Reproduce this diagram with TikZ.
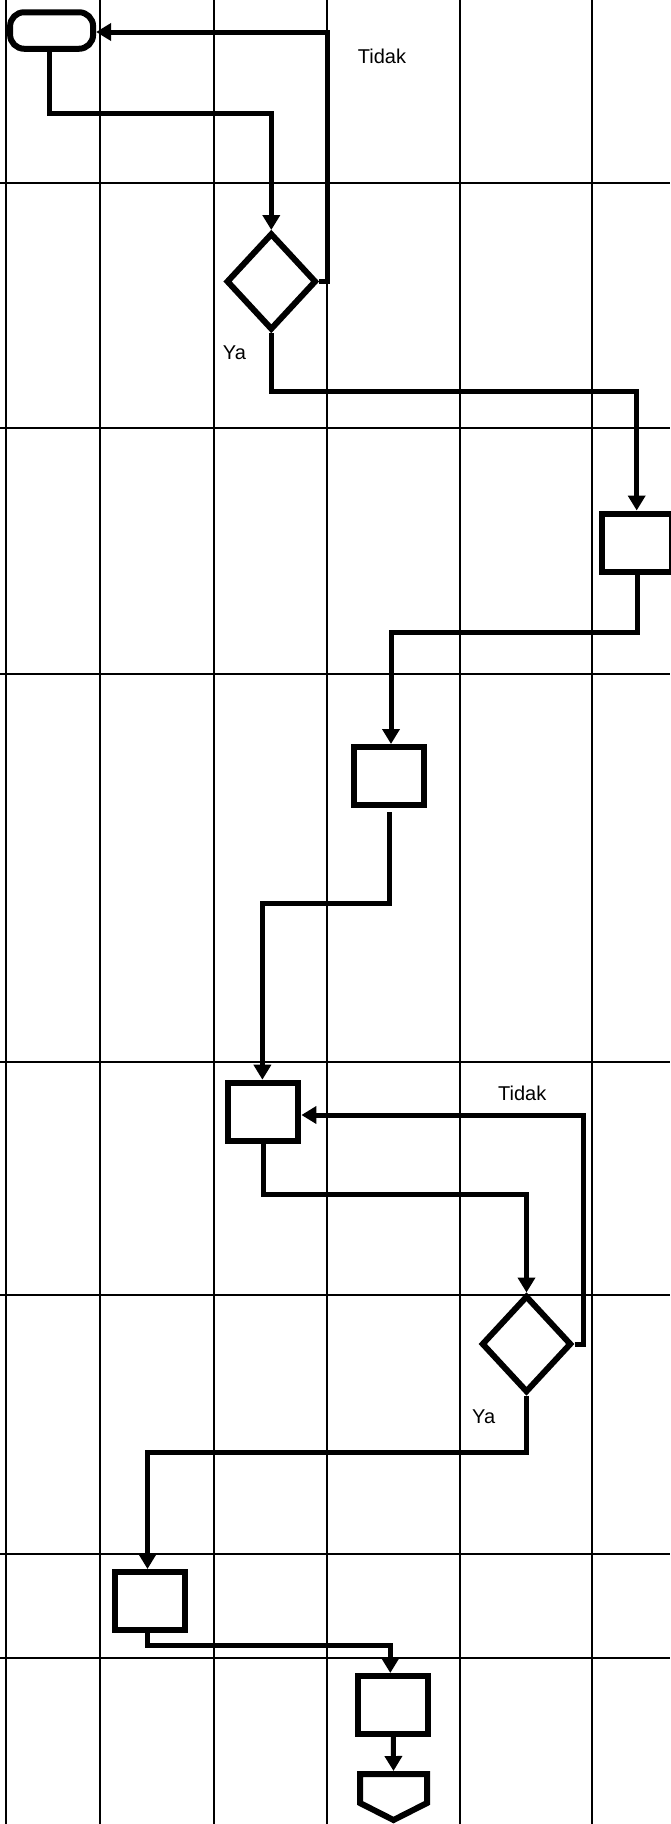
\documentclass[tikz,border=0pt]{standalone}
\usepackage{fontspec}
\setmainfont{Liberation Sans}
\usetikzlibrary{arrows.meta,shapes.geometric}
\begin{document}
\begin{tikzpicture}[x=1pt,y=-1pt,
  gridline/.style={line width=1.8pt},
  flow/.style={line width=5pt},
  arr/.style={flow,-{Triangle[length=15pt,width=17pt]}},
  shapeline/.style={draw,line width=6pt,fill=white},
  procbox/.style={shapeline,rectangle,inner sep=0pt,minimum width=70pt,minimum height=58pt},
  decision/.style={shapeline,diamond,inner sep=0pt,minimum width=90pt,minimum height=97pt},
  terminal/.style={shapeline,rectangle,rounded corners=14pt,inner sep=0pt,minimum width=83pt,minimum height=36.5pt},
  lbl/.style={inner sep=0pt,anchor=base west,font=\fontsize{20pt}{24pt}\selectfont}]
\useasboundingbox (0,0) rectangle (670,1824);
% grid
\foreach \gx in {5.6,99.6,213.7,326.9,459.8,592.3}
  \draw[gridline] (\gx,0) -- (\gx,1824);
\foreach \gy in {182.7,427.7,674,1062.3,1295,1554,1658}
  \draw[gridline] (0,\gy) -- (670,\gy);
% shapes
\node[terminal] (t) at (51.6,30.5) {};
\node[decision] (d1) at (271.3,281.5) {};
\node[procbox] (bA) at (637.3,542.5) {};
\node[procbox] (bB) at (388.5,776) {};
\node[procbox] (bC) at (263.4,1111.7) {};
\node[decision] (d2) at (526.5,1344) {};
\node[procbox] (bD) at (150,1601) {};
\node[procbox] (bE) at (393.3,1705) {};
\node[inner sep=0pt,outer sep=0pt,minimum width=67pt,minimum height=46pt] (op) at (393.5,1797) {};
\draw[shapeline] (op.north west) -- (op.north east) -- ([yshift=17pt]op.south east)
  -- (op.south) -- ([yshift=17pt]op.south west) -- cycle;
% connectors
\draw[arr] ([xshift=-2.5pt]t.south) |- (200,113) -| (d1.north);
\draw[arr] (d1.east) -- (327.5,281.5) |- ([yshift=-1.5pt]t.east);
\draw[arr] (d1.south) -- ++(0,58) -| ([xshift=-0.6pt]bA.north);
\draw[arr] (bA.south) -- ++(0,57.5) -| ([xshift=2.5pt]bB.north);
\draw[arr] ([xshift=1pt,yshift=-4pt]bB.south) -- ++(0,91.5) -| ([xshift=-1pt]bC.north);
\draw[arr] (d2.east) -- (583,1344) |- ([yshift=-3.3pt]bC.east);
\draw[arr] (bC.south) -- ++(0,50.5) -| (d2.north);
\draw[arr] (d2.south) -- ++(0,57) -| ([xshift=-2.5pt]bD.north);
\draw[arr] ([xshift=-2.5pt]bD.south) -- ++(0,12.75) -| ([xshift=-3pt]bE.north);
\draw[arr] (bE.south) -- ([yshift=3pt]op.north);
% labels
\node[lbl] (l1) at (357.7,63.3) {Tidak};
\node[lbl] (l2) at (222.7,359.3) {Ya};
\node[lbl] (l3) at (498,1100) {Tidak};
\node[lbl] (l4) at (472,1423) {Ya};
\end{tikzpicture}
\end{document}
